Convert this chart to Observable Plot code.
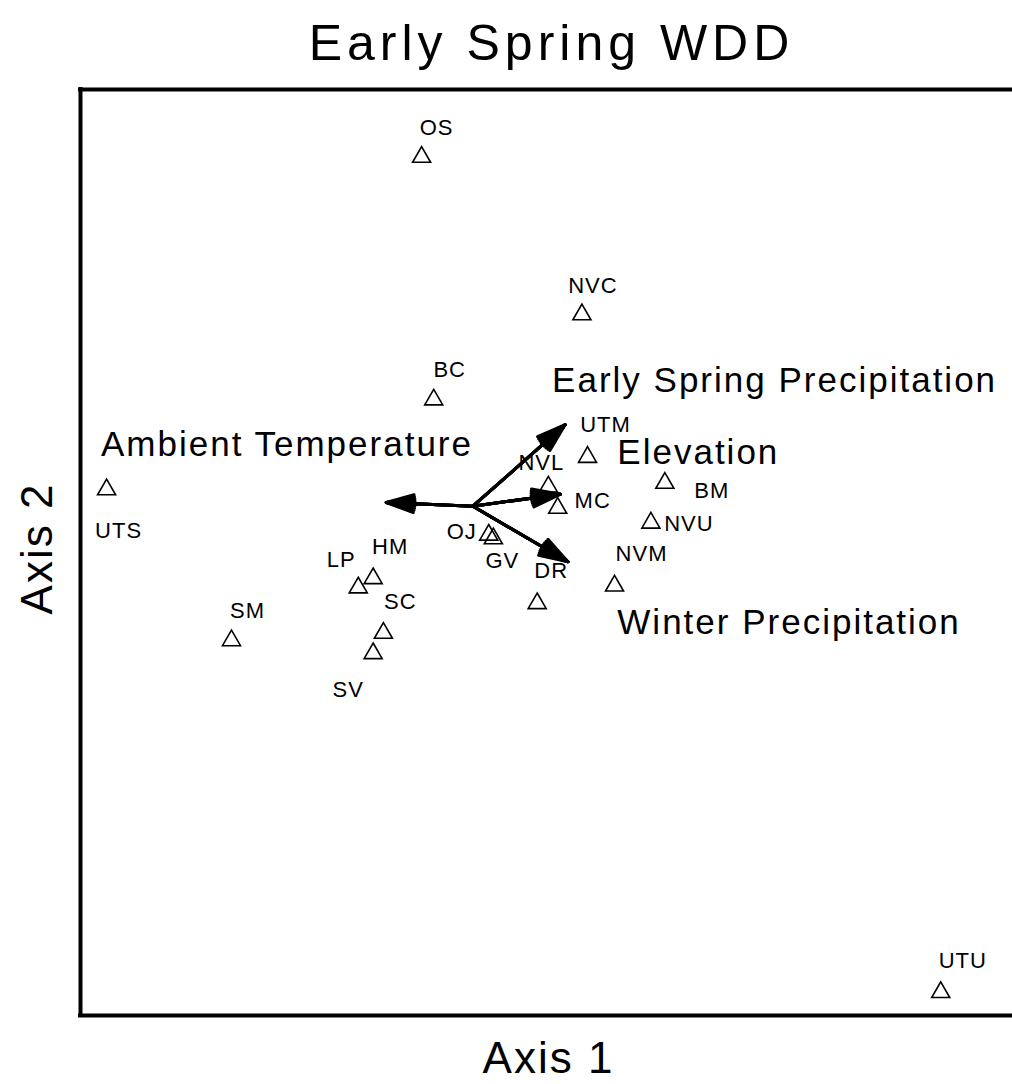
<!DOCTYPE html>
<html>
<head>
<meta charset="utf-8">
<script src="https://cdn.jsdelivr.net/npm/d3@7"></script>
<script src="https://cdn.jsdelivr.net/npm/@observablehq/plot@0.6"></script>
<style>
  html, body { margin: 0; padding: 0; background: #fff; }
  #chart svg { display: block; }
</style>
</head>
<body>
<div id="chart"></div>
<script>
// ---- Data (ordination scores, arbitrary units 0..100) ----
const titleText = "Early Spring WDD";
const xLabel = "Axis 1";
const yLabel = "Axis 2";

const sites  = ["OS","NVC","BC","UTM","UTS","NVL","MC","BM","NVU","OJ","GV","NVM","DR","HM","LP","SC","SV","SM","UTU"];
const axis1  = [36.6, 53.8, 37.9, 54.4, 2.8, 50.2, 51.2, 62.7, 61.2, 43.8, 44.3, 57.3, 49.0, 31.4, 29.8, 32.5, 31.4, 16.2, 92.3];
const axis2  = [92.7, 75.7, 66.5, 60.3, 56.8, 57.1, 54.8, 57.5, 53.2, 51.9, 51.5, 46.4, 44.5, 47.2, 46.2, 41.3, 39.1, 40.5, 2.5];

const vectorNames = ["Ambient Temperature","Early Spring Precipitation","Elevation","Winter Precipitation"];
const vectorOrigin = [42.1, 55.0];
const vectorX = [32.8, 52.0, 51.5, 52.3];
const vectorY = [55.4, 63.8, 56.3, 49.0];
const vectorLabelX = [2.2, 50.6, 57.6, 57.6];
const vectorLabelY = [61.6, 68.5, 60.8, 42.4];

// ---- Label placement (pixel offsets from each triangle), styling only ----
const labelOffset = {
  OS:[15,-29], NVC:[11,-29], BC:[16,-30], UTM:[18,-32], UTS:[12,41], NVL:[-7,-24],
  MC:[35,-7], BM:[47,8], NVU:[38,1], OJ:[-27,-3], GV:[9,22], NVM:[27,-32],
  DR:[14,-32], HM:[17,-31], LP:[-17,-28], SC:[17,-31], SV:[-25,37], SM:[16,-30], UTU:[22,-31]
};

const points = sites.map((s, i) => ({site: s, x: axis1[i], y: axis2[i], dx: labelOffset[s][0], dy: labelOffset[s][1]}));
const vectors = vectorNames.map((n, i) => ({
  name: n, x1: vectorOrigin[0], y1: vectorOrigin[1], x2: vectorX[i], y2: vectorY[i],
  lx: vectorLabelX[i], ly: vectorLabelY[i]
}));

const font = "Liberation Sans, Arial, Helvetica, sans-serif";

const siteLabelMarks = points.map(p => Plot.text([p], {
  x: "x", y: "y", text: "site", dx: p.dx, dy: p.dy,
  fontSize: 22, fontFamily: font, fill: "#000", textAnchor: "middle"
}));

// several arrows with narrowing heads give a filled arrowhead look
const arrowMarks = [36, 27, 18, 9, 2].map(a => Plot.arrow(vectors, {
  x1: "x1", y1: "y1", x2: "x2", y2: "y2", stroke: "#000", strokeWidth: 3, headLength: 15, headAngle: a
}));

const chart = Plot.plot({
  width: 1012,
  height: 1084,
  marginLeft: 80,
  marginRight: 0,
  marginTop: 89,
  marginBottom: 69,
  x: {domain: [0, 100], axis: null},
  y: {domain: [0, 100], axis: null},
  style: {background: "#fff", fontFamily: font},
  marks: [
    Plot.ruleX([0], {stroke: "#000", strokeWidth: 4, strokeLinecap: "square"}),
    Plot.ruleY([0, 100], {stroke: "#000", strokeWidth: 4, strokeLinecap: "square"}),
    ...arrowMarks,
    Plot.dot(points, {x: "x", y: "y", symbol: "triangle", r: 6.7, stroke: "#000", strokeWidth: 1.6, fill: "none"}),
    ...siteLabelMarks,
    Plot.text(vectors, {x: "lx", y: "ly", text: "name", textAnchor: "start", fontSize: 35, fontFamily: font, fill: "#000"}),
    Plot.text([titleText], {frameAnchor: "top", textAnchor: "middle", dx: 5, dy: -65, fontSize: 50, fontFamily: font, fill: "#000"}),
    Plot.text([xLabel], {frameAnchor: "bottom", textAnchor: "middle", dx: 2, dy: 57, fontSize: 44, fontFamily: font, fill: "#000"}),
    Plot.text([yLabel], {frameAnchor: "left", textAnchor: "middle", dx: -43, dy: -4, rotate: -90, fontSize: 44, fontFamily: font, fill: "#000"})
  ]
});

// letter spacing by text size (the reference font is set wider than Arial)
const spacing = {"50": 5, "44": 2, "35": 2, "22": 1};
d3.select(chart).selectAll("g[font-size]").each(function() {
  const fs = this.getAttribute("font-size");
  if (spacing[fs] !== undefined) this.setAttribute("letter-spacing", spacing[fs]);
});
document.getElementById("chart").appendChild(chart);
</script>
</body>
</html>
